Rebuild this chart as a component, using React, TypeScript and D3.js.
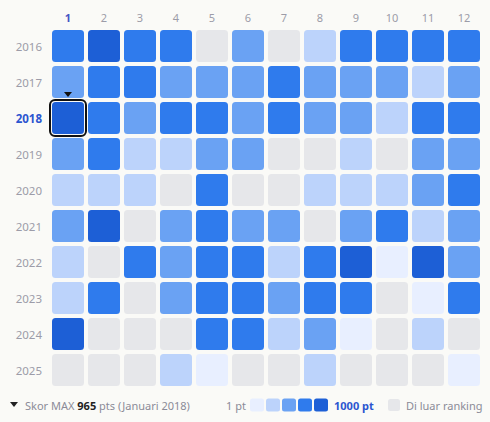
import React from "react";
import * as d3 from "d3";

const months = ["1", "2", "3", "4", "5", "6", "7", "8", "9", "10", "11", "12"];
const years = ["2016", "2017", "2018", "2019", "2020", "2021", "2022", "2023", "2024", "2025"];
// Estimated monthly scores (pts); null = outside ranking
const s2016 = [700, 900, 700, 700, null, 500, null, 300, 700, 700, 700, 700];
const s2017 = [500, 700, 700, 500, 500, 500, 700, 500, 500, 500, 300, 500];
const s2018 = [965, 700, 500, 700, 700, 500, 700, 500, 500, 300, 700, 700];
const s2019 = [500, 700, 300, 300, 500, 500, null, null, 300, null, 500, 500];
const s2020 = [300, 300, 300, null, 700, null, null, 300, 300, 300, 500, 700];
const s2021 = [500, 900, null, 500, 700, 500, 500, null, 500, 700, 300, 500];
const s2022 = [300, null, 700, 500, 700, 700, 300, 700, 900, 100, 900, 500];
const s2023 = [300, 700, null, 500, 700, 700, 500, 700, 700, null, 100, 700];
const s2024 = [900, null, null, null, 700, 700, 300, 500, 100, null, 300, null];
const s2025 = [null, null, null, 300, 100, null, null, 300, null, null, null, 100];
const scores = [s2016, s2017, s2018, s2019, s2020, s2021, s2022, s2023, s2024, s2025];
const levelColors = ["#e8efff", "#bcd3fb", "#6aa2f3", "#2f7bed", "#1d5fd6"];
const grayColor = "#e6e7ea";
const maxYear = "2018";
const maxMonth = "1";
const maxScore = 965;

const FONT = "'Noto Sans', sans-serif";

export default function App() {
  const x = d3.scaleBand<string>().domain(months).range([52, 480]).paddingInner(4 / 36).paddingOuter(0);
  const y = d3.scaleBand<string>().domain(years).range([30, 386]).paddingInner(4 / 36).paddingOuter(0);
  const color = d3.scaleQuantize<string>().domain([1, 1000]).range(levelColors);
  const bw = x.bandwidth();
  const bh = y.bandwidth();
  const labelColor = "#9c9ca8";
  const hiColor = "#2b55d0";

  const sx = x(maxMonth)!;
  const sy = y(maxYear)!;
  const cxSel = sx + bw / 2;

  const legendY = 405;
  const swX = 250;

  return (
    <svg width={490} height={422} style={{ position: "absolute", left: 0, top: 0 }} fontFamily={FONT}>
      <rect x={0} y={0} width={490} height={422} fill="#fafaf7" />
      {months.map((m) => (
        <text key={m} x={x(m)! + bw / 2} y={17} textAnchor="middle" dominantBaseline="central" fontSize={11}
          fill={m === maxMonth ? "#4655c4" : labelColor} fontWeight={m === maxMonth ? 700 : 400}>{m}</text>
      ))}
      {years.map((yr) => (
        <text key={yr} x={42} y={y(yr)! + bh / 2} textAnchor="end" dominantBaseline="central" fontSize={11.5}
          fill={yr === maxYear ? hiColor : labelColor} fontWeight={yr === maxYear ? 700 : 400}>{yr}</text>
      ))}
      {years.map((yr, i) =>
        months.map((m, j) => {
          const v = scores[i][j];
          return (
            <rect key={yr + "-" + m} x={x(m)} y={y(yr)} width={bw} height={bh} rx={3.5}
              fill={v == null ? grayColor : color(v)} />
          );
        })
      )}
      <rect x={sx - 2} y={sy - 2} width={bw + 4} height={bh + 4} rx={5} fill="none" stroke="#111" strokeWidth={2} />
      <path d={`M${cxSel - 4},${sy - 10}L${cxSel + 4},${sy - 10}L${cxSel},${sy - 5}Z`} fill="#111" />

      {/* legend */}
      <path d={`M10,${legendY - 3}L18,${legendY - 3}L14,${legendY + 2}Z`} fill="#222" />
      <text x={25} y={legendY} dominantBaseline="central" fontSize={11} fill="#8b8b98">
        Skor MAX <tspan fontWeight={700} fill="#222">{maxScore}</tspan> pts (Januari {maxYear})
      </text>
      <text x={246} y={legendY} textAnchor="end" dominantBaseline="central" fontSize={11} fill="#8b8b98">1 pt</text>
      {levelColors.map((c, i) => (
        <rect key={c} x={swX + i * 16} y={legendY - 6.5} width={14} height={13} rx={2.5} fill={c} />
      ))}
      <text x={334} y={legendY} dominantBaseline="central" fontSize={11} fontWeight={700} fill={hiColor}>1000 pt</text>
      <rect x={388} y={legendY - 6} width={12} height={12} rx={2.5} fill={grayColor} />
      <text x={406} y={legendY} dominantBaseline="central" fontSize={11} fill="#8b8b98">Di luar ranking</text>
    </svg>
  );
}
